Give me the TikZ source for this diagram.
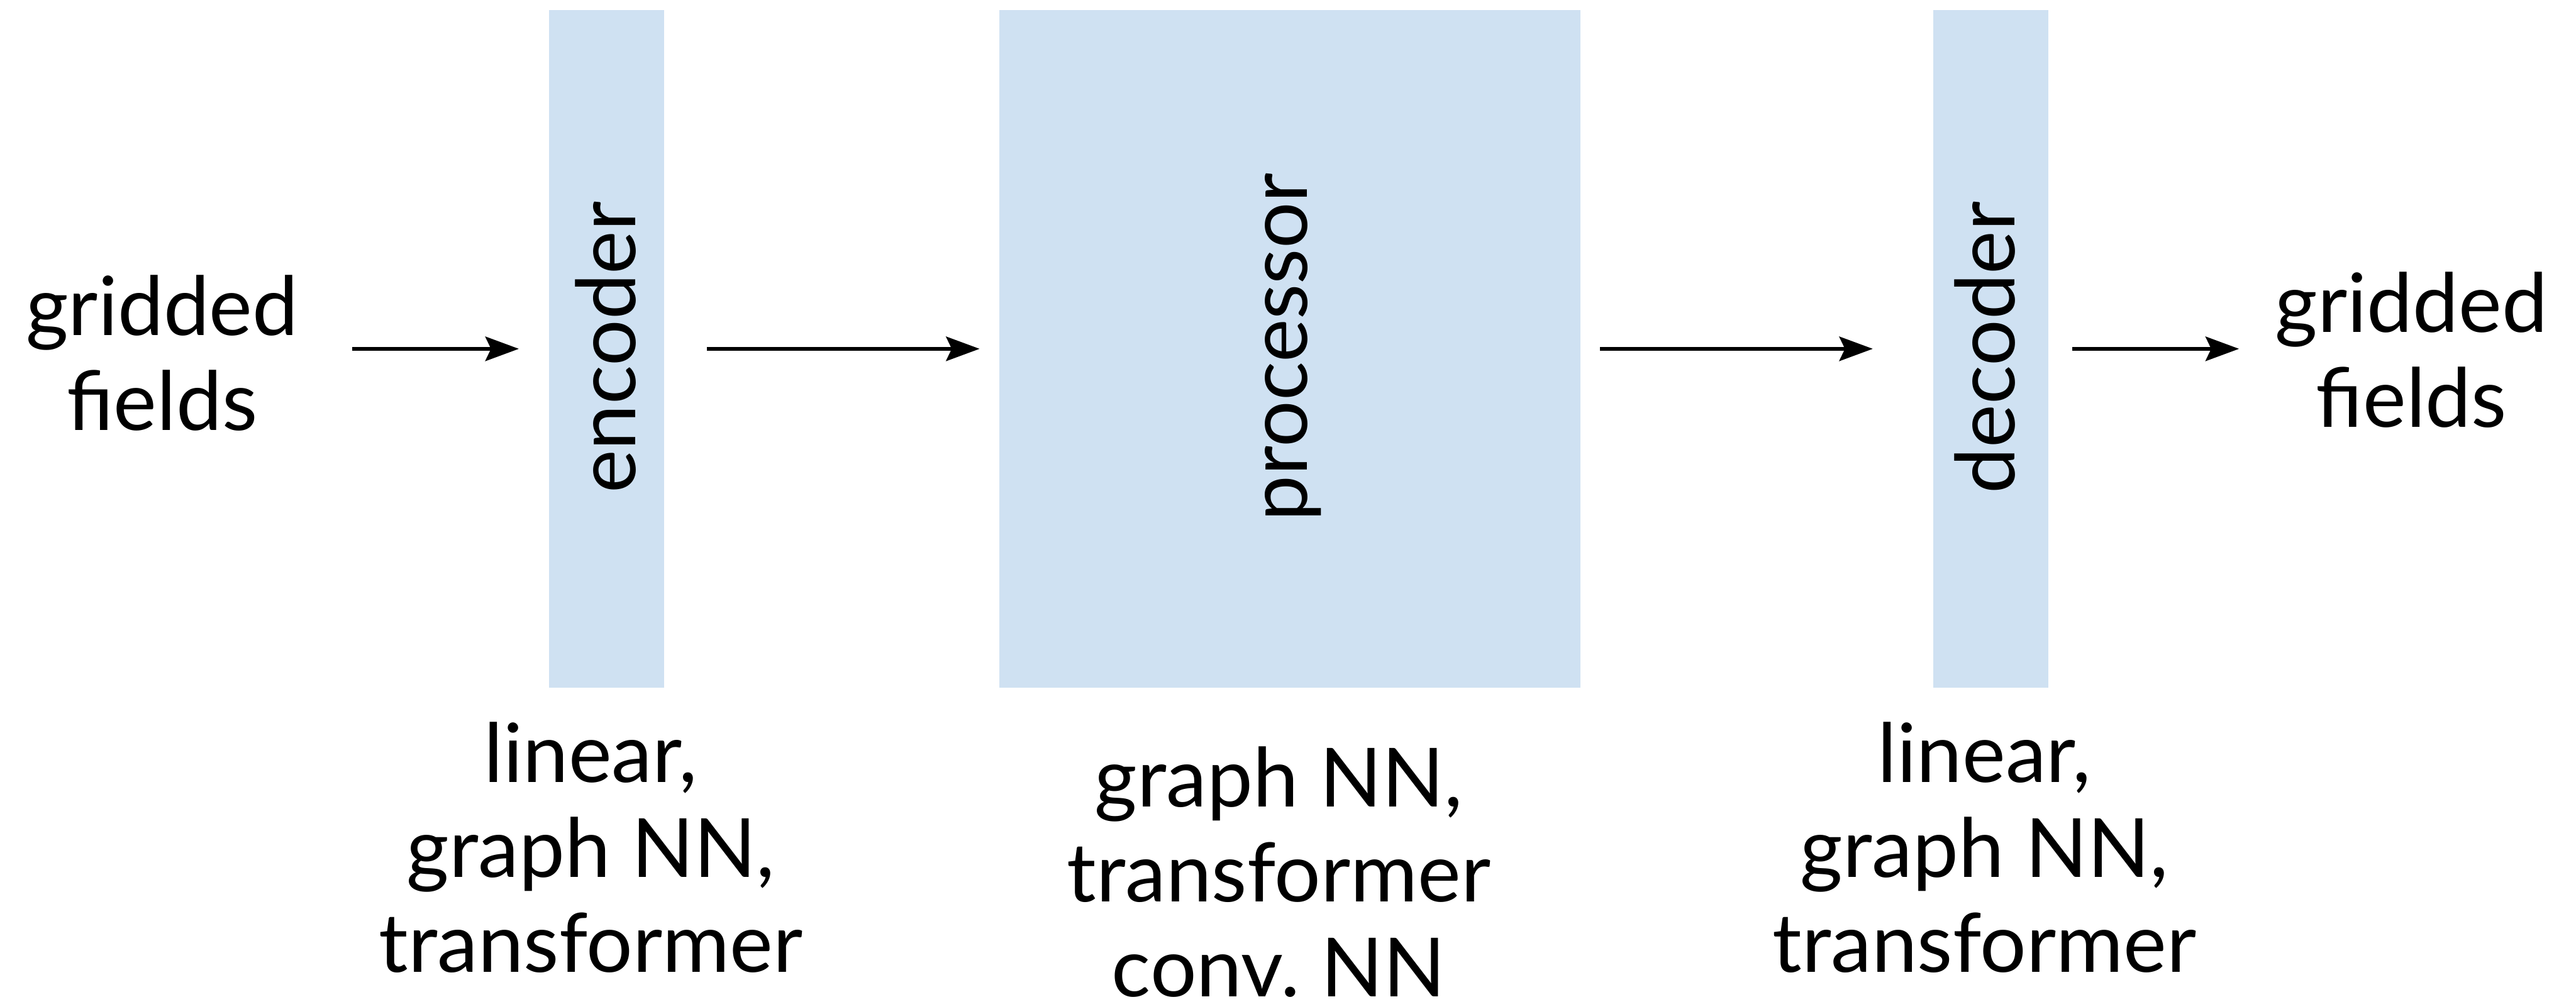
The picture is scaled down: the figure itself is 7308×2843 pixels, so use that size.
\documentclass[tikz,border=0pt]{standalone}
\usepackage{fontspec}
\setmainfont{Lato}
\usetikzlibrary{arrows.meta}
\definecolor{blockfill}{RGB}{207,225,242}
\tikzset{
  block/.style={fill=blockfill, draw=none, inner sep=0pt, outer sep=0pt},
  lbl/.style={font=\fontsize{23.2}{26.9}\selectfont, inner sep=0pt, outer sep=0pt, align=center},
  fieldlbl/.style={lbl, text width=80pt},
  vlbl/.style={font=\fontsize{23.2}{26.9}\selectfont, inner sep=0pt, outer sep=0pt, rotate=90, anchor=base},
  flow/.style={line width=1.07pt, -{Stealth[length=9.5pt, width=6.9pt, inset=1.6pt]}}
}
\begin{document}
\begin{tikzpicture}[x=0.1pt, y=-0.1pt]
\useasboundingbox (0,0) rectangle (7308,2843);

% pipeline blocks
\node[block, minimum width=32.7pt, minimum height=192.4pt] (enc) at (1720.5,990) {};
\node[block, minimum width=164.9pt, minimum height=192.4pt] (proc) at (3659.5,990) {};
\node[block, minimum width=32.7pt, minimum height=192.4pt] (dec) at (5647.5,990) {};

% block names, set vertically
\node[vlbl] (encname) at (1802,986) {encoder};
\node[vlbl] (procname) at (3709,985) {processor};
\node[vlbl] (decname) at (5715,986) {decoder};

% input and output fields (base = first line)
\node[fieldlbl, anchor=base] (gin) at (460,952) {gridded\\fields};
\node[fieldlbl, anchor=base] (gout) at (6841,943) {gridded\\fields};

% model choices under each block (base = last line)
\node[lbl, anchor=base] (encopts) at (1676,2759) {linear,\\graph NN,\\transformer};
\node[lbl, anchor=base] (procopts) at (3628,2828) {graph NN,\\transformer\\conv.\ NN};
\node[lbl, anchor=base] (decopts) at (5630,2759) {linear,\\graph NN,\\transformer};

% data flow
\draw[flow, shorten <=13.9pt, shorten >=8.5pt] (gin.east |- enc.west) -- (enc.west);
\draw[flow, shorten <=12.1pt, shorten >=5.6pt] (enc.east) -- (proc.west);
\draw[flow, shorten <=5.5pt, shorten >=17.1pt] (proc.east) -- (dec.west);
\draw[flow, shorten <=6.8pt, shorten >=8.9pt] (dec.east) -- (gout.west |- dec.east);
\end{tikzpicture}
\end{document}
